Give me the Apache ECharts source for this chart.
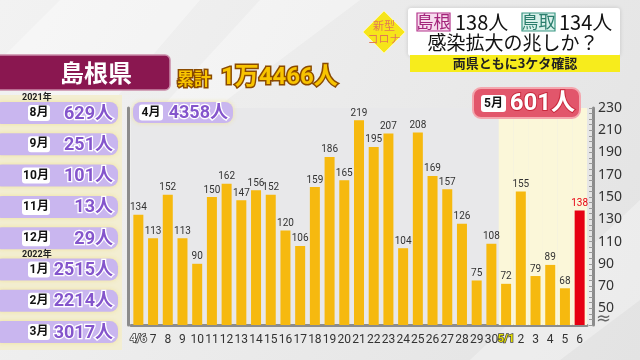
<!DOCTYPE html>
<html>
<head>
<meta charset="utf-8">
<script src="https://cdn.jsdelivr.net/npm/echarts@6/dist/echarts.min.js"></script>
<style>
html,body{margin:0;padding:0;background:#ececec;}
#chart{width:640px;height:360px;}
</style>
</head>
<body>
<div id="chart"></div>
<script>
// ---- data ----
const days = ['4/6','7','8','9','10','11','12','13','14','15','16','17','18','19','20','21','22','23','24','25','26','27','28','29','30','5/1','2','3','4','5','6'];
const cases = [134,113,152,113,90,150,162,147,156,152,120,106,159,186,165,219,195,207,104,208,169,157,126,75,108,72,155,79,89,68,138];
const yLabelValues = [50,70,90,110,130,150,170,190,210,230];
const monthLabels = ['8月','9月','10月','11月','12月','1月','2月','3月'];
const monthTotals = ['629人','251人','101人','13人','29人','2515人','2214人','3017人'];
const yearMarks = [{idx:0, text:'2021年'},{idx:5, text:'2022年'}];
const aprilLabel = '4月', aprilTotal = '4358人';
const mayLabel = '5月', mayTotal = '601人';
const cumulativeLabel = '累計', cumulativeTotal = '1万4466人';
const prefName = '島根県';
const headShimane = '島根', headShimaneVal = '138人';
const headTottori = '鳥取', headTottoriVal = '134人';
const headLine2 = '感染拡大の兆しか？';
const headSub = '両県ともに3ケタ確認';
const badge = ['新型','コロナ'];

const Y_MIN = 35, Y_MAX = 230;
const mayStart = days.indexOf('5/1');
const lastIdx = cases.length - 1;

const JP = '"Noto Sans CJK JP","Noto Sans",sans-serif';
const NUM = 'Roboto,"Noto Sans CJK JP",sans-serif';

const chart = echarts.init(document.getElementById('chart'));

// ---- decorative graphics ----
const g = [];
g.push({type:'polygon', silent:true, z:-10, shape:{points:[[60,0],[200,0],[80,140],[0,60]]}, style:{fill:'rgba(255,255,255,0.35)'}});
g.push({type:'polygon', silent:true, z:-10, shape:{points:[[260,0],[360,0],[200,120],[150,120]]}, style:{fill:'rgba(255,255,255,0.35)'}});
g.push({type:'polygon', silent:true, z:-10, shape:{points:[[640,200],[640,300],[560,360],[470,360]]}, style:{fill:'rgba(255,255,255,0.3)'}});

// prefecture box
g.push({type:'rect', shape:{x:-4,y:55,width:174,height:35,r:[0,5,5,0]}, style:{fill:'#8a1750', stroke:'#c98aa8', lineWidth:1.5}});
g.push({type:'text', style:{x:96,y:73,text:prefName,fill:'#fff',font:'bold 24px '+JP,textAlign:'center',textVerticalAlign:'middle'}});
// cumulative
g.push({type:'text', style:{x:177,y:79,text:cumulativeLabel,fill:'#f8c400',stroke:'#8a4a00',lineWidth:3,font:'bold 17px '+JP,textVerticalAlign:'middle'}});
g.push({type:'text', style:{x:221,y:78,text:cumulativeTotal,fill:'#f8c400',stroke:'#8a4a00',lineWidth:3,font:'bold 24px '+NUM,textVerticalAlign:'middle'}});

// top-right card
g.push({type:'rect', shape:{x:408,y:8,width:212,height:48,r:3}, style:{fill:'#ffffff', shadowBlur:4, shadowColor:'rgba(0,0,0,0.15)'}});
g.push({type:'rect', shape:{x:410,y:55,width:210,height:17}, style:{fill:'#f7ec1c'}});
g.push({type:'text', style:{x:515,y:63.5,text:headSub,fill:'#222',font:'bold 13px '+JP,textAlign:'center',textVerticalAlign:'middle'}});
g.push({type:'rect', shape:{x:417,y:13,width:33,height:18}, style:{fill:'#f7dcee',stroke:'#b4358c',lineWidth:1.2}});
g.push({type:'text', style:{x:433.5,y:22,text:headShimane,fill:'#a3247a',font:'17px '+JP,textAlign:'center',textVerticalAlign:'middle'}});
g.push({type:'text', style:{x:455,y:22,text:headShimaneVal,fill:'#111',font:'20px '+JP,textVerticalAlign:'middle'}});
g.push({type:'rect', shape:{x:522,y:13,width:33,height:18}, style:{fill:'#d9f1eb',stroke:'#3b9884',lineWidth:1.2}});
g.push({type:'text', style:{x:538.5,y:22,text:headTottori,fill:'#2a7d6c',font:'17px '+JP,textAlign:'center',textVerticalAlign:'middle'}});
g.push({type:'text', style:{x:559,y:22,text:headTottoriVal,fill:'#111',font:'20px '+JP,textVerticalAlign:'middle'}});
g.push({type:'text', style:{x:513,y:43,text:headLine2,fill:'#111',font:'19px '+JP,textAlign:'center',textVerticalAlign:'middle'}});
// badge diamond
g.push({type:'polygon', shape:{points:[[384,11],[405,32],[384,53],[363,32]]}, style:{fill:'#f6e51a', stroke:'#fff8a0', lineWidth:1}});
g.push({type:'text', style:{x:384,y:26,text:badge[0],fill:'#e27a55',font:'11px '+JP,textAlign:'center',textVerticalAlign:'middle'}});
g.push({type:'text', style:{x:384,y:39,text:badge[1],fill:'#e27a55',font:'11px '+JP,textAlign:'center',textVerticalAlign:'middle'}});

// left monthly panel
g.push({type:'rect', silent:true, shape:{x:0,y:95,width:122,height:255}, style:{fill:'#f3eed2'}});
monthLabels.forEach((m,i)=>{
  const cy = 113 + i*31.3;
  g.push({type:'rect', shape:{x:-6,y:cy-11,width:124,height:22,r:8}, style:{fill:'#c9b6ef', shadowBlur:4, shadowColor:'rgba(240,225,150,0.9)'}});
  const bw = m.length>2 ? 28 : 22;
  g.push({type:'rect', shape:{x:50-bw,y:cy-8,width:bw,height:16,r:3}, style:{fill:'#fff'}});
  g.push({type:'text', style:{x:50-bw/2,y:cy,text:m,fill:'#111',font:'bold 12px '+NUM,textAlign:'center',textVerticalAlign:'middle'}});
  g.push({type:'text', style:{x:113,y:cy+1,text:monthTotals[i],fill:'#8455cc',stroke:'#fff',lineWidth:2.5,font:'bold 18px '+NUM,textAlign:'right',textVerticalAlign:'middle'}});
});
yearMarks.forEach(y=>{
  const cy = 113 + y.idx*31.3;
  g.push({type:'text', z:10, style:{x:22,y:cy-15,text:y.text,fill:'#222',font:'bold 9px '+NUM,textVerticalAlign:'middle'}});
});

// April pill
g.push({type:'rect', z:10, shape:{x:133,y:102,width:100,height:21,r:8}, style:{fill:'#c9b6ef', shadowBlur:4, shadowColor:'rgba(240,225,150,0.9)'}});
g.push({type:'rect', z:10, shape:{x:139,y:104.5,width:24,height:16,r:3}, style:{fill:'#fff'}});
g.push({type:'text', z:10, style:{x:151,y:112.5,text:aprilLabel,fill:'#111',font:'bold 12px '+NUM,textAlign:'center',textVerticalAlign:'middle'}});
g.push({type:'text', z:10, style:{x:228,y:113,text:aprilTotal,fill:'#8455cc',stroke:'#fff',lineWidth:2.5,font:'bold 18px '+NUM,textAlign:'right',textVerticalAlign:'middle'}});

// May pill
g.push({type:'rect', z:10, shape:{x:473,y:88,width:107,height:30,r:8}, style:{fill:'#e2566b', stroke:'#f4a6ae', lineWidth:2}});
g.push({type:'rect', z:10, shape:{x:481,y:95,width:25,height:17,r:3}, style:{fill:'#fff'}});
g.push({type:'text', z:10, style:{x:493.5,y:103.5,text:mayLabel,fill:'#111',font:'bold 12px '+NUM,textAlign:'center',textVerticalAlign:'middle'}});
g.push({type:'text', z:10, style:{x:575,y:104,text:mayTotal,fill:'#fff',stroke:'#c8283c',lineWidth:2,font:'bold 24px '+NUM,textAlign:'right',textVerticalAlign:'middle'}});

// axis break mark
g.push({type:'text', z:10, style:{x:596,y:319,text:'≈',fill:'#666',font:'18px "DejaVu Sans",sans-serif',textVerticalAlign:'middle'}});

// ---- chart ----
const option = {
  backgroundColor: {type:'linear',x:0,y:0,x2:1,y2:1,colorStops:[{offset:0,color:'#f2f2f2'},{offset:1,color:'#e3e3e3'}]},
  animation: false,
  grid: {left:131, right:53, top:108, bottom:35, show:true, backgroundColor:'#e8e8ea', borderWidth:0},
  graphic: g,
  xAxis: [
    {type:'category', data:days, boundaryGap:true,
     axisLine:{show:true, lineStyle:{color:'#8c8c8c', width:3}},
     axisTick:{show:false},
     axisLabel:{interval:0, margin:9, color:'#333', fontSize:12, fontFamily:'Roboto',
       formatter:(v,i)=> i===0 ? '{a|'+v+'}' : (i===mayStart ? '{b|'+v+'}' : v),
       rich:{a:{color:'#f4f4f4',textBorderColor:'#333',textBorderWidth:1.5,fontSize:11,fontWeight:'bold',fontFamily:'Roboto'},
             b:{color:'#e8e200',textBorderColor:'#444',textBorderWidth:1.5,fontSize:11,fontWeight:'bold',fontFamily:'Roboto'}}}},
    {type:'category', data:days, boundaryGap:true, show:false}
  ],
  yAxis: [
    {type:'value', position:'right', min:Y_MIN, max:Y_MAX, interval:5, offset:6,
     axisLine:{show:true, lineStyle:{color:'#8c8c8c', width:3}},
     axisTick:{show:true, inside:true, length:4, lineStyle:{color:'#9a9a9a', width:1}},
     splitLine:{show:false},
     axisLabel:{margin:5, color:'#333', fontSize:14, fontFamily:'"Noto Sans",sans-serif',
       formatter:v=> yLabelValues.indexOf(v)>=0 ? String(v) : ''}},
    {type:'value', position:'left', min:Y_MIN, max:Y_MAX, offset:3,
     axisLine:{show:true, lineStyle:{color:'#8c8c8c', width:3}},
     axisTick:{show:false}, axisLabel:{show:false}, splitLine:{show:false}}
  ],
  series: [
    {type:'bar', xAxisIndex:1, yAxisIndex:0, silent:true, z:1, barWidth:'100%',
     itemStyle:{color:'#fbf7d9'},
     data: days.map((d,i)=> i>=mayStart ? Y_MAX : '-')},
    {type:'bar', xAxisIndex:0, yAxisIndex:0, z:3, barWidth:10,
     data: cases.map((v,i)=>({value:v,
        itemStyle:{color: i===lastIdx ? '#e60012' : '#f6b90f'},
        label:{color: i===lastIdx ? '#e60012' : '#333'}})),
     label:{show:true, position:'top', distance:2, fontSize:10, fontFamily:'Roboto'}}
  ]
};
chart.setOption(option);
</script>
</body>
</html>
